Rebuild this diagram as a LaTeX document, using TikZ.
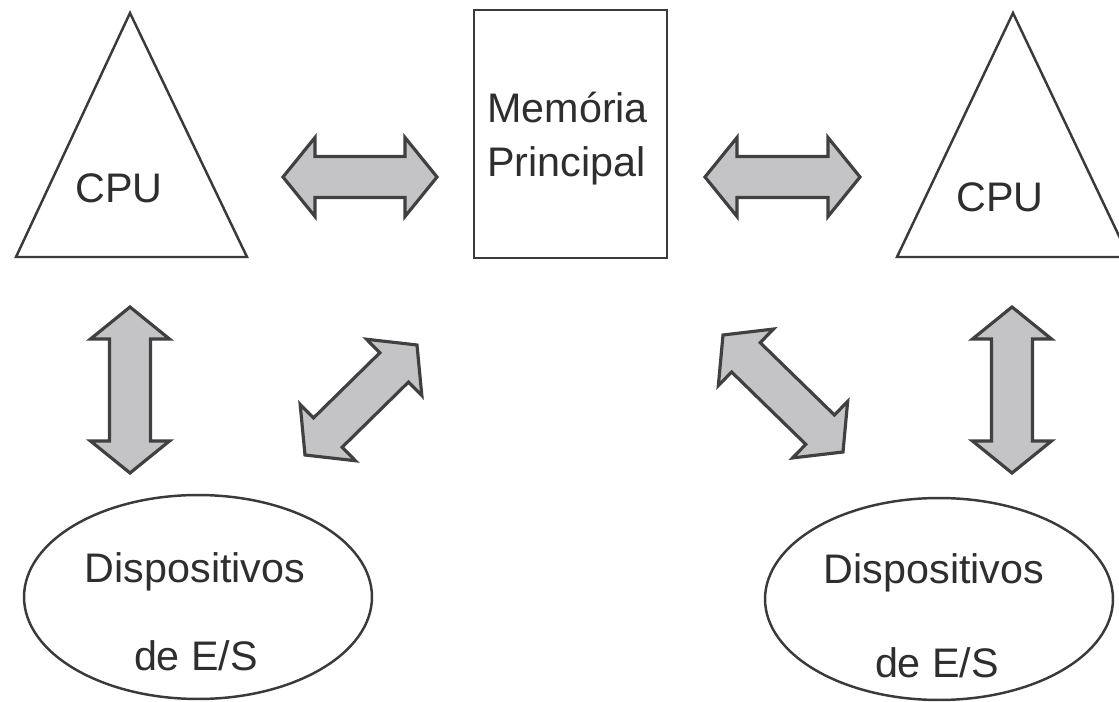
\documentclass[tikz,border=0pt]{standalone}
\usepackage{fontspec}
\setmainfont{Liberation Sans}
\usetikzlibrary{calc,shapes.geometric}

\definecolor{linegray}{HTML}{3A3A3A}
\definecolor{arrowfill}{HTML}{C4C3C6}
\definecolor{arrowline}{HTML}{404040}
\definecolor{textgray}{HTML}{2E2E2E}

% block arrow dimensions: head length, head half-width, shaft half-width
\def\arrhead{0.64cm}
\def\arrwide{0.79cm}
\def\arrshaft{0.41cm}

% double-headed block arrow between two named coordinates
\newcommand{\blockarrow}[2]{%
  \draw[blockarrow] (#1)
    -- ($(#1)!\arrhead!(#2)!\arrwide!90:(#2)$)
    -- ($(#1)!\arrhead!(#2)!\arrshaft!90:(#2)$)
    -- ($(#2)!\arrhead!(#1)!\arrshaft!-90:(#1)$)
    -- ($(#2)!\arrhead!(#1)!\arrwide!-90:(#1)$)
    -- (#2)
    -- ($(#2)!\arrhead!(#1)!\arrwide!90:(#1)$)
    -- ($(#2)!\arrhead!(#1)!\arrshaft!90:(#1)$)
    -- ($(#1)!\arrhead!(#2)!\arrshaft!-90:(#2)$)
    -- ($(#1)!\arrhead!(#2)!\arrwide!-90:(#2)$)
    -- cycle;}

\begin{document}
\begin{tikzpicture}[x=0.02cm, y=-0.02cm,
  outline/.style={draw=linegray, line width=1.4pt, line join=miter},
  blockarrow/.style={draw=arrowline, fill=arrowfill, line width=1.8pt, line join=miter},
  label/.style={font=\fontsize{23.5}{28}\selectfont, text=textgray, inner sep=0pt, anchor=base}]

\useasboundingbox (0,0) rectangle (1119,702);
\clip (0,0) rectangle (1119,702);
\fill[white] (0,0) rectangle (1119,702);

% processors
\draw[outline] (130,13) coordinate (cpuAtop) -- (247,257) coordinate (cpuAright)
  -- (16,257) coordinate (cpuAleft) -- cycle;
\node[label] (cpuA) at (119,203) {CPU};

\draw[outline] (1013,13) coordinate (cpuBtop) -- (1129,257) coordinate (cpuBright)
  -- (897,257) coordinate (cpuBleft) -- cycle;
\node[label] (cpuB) at (1000,212) {CPU};

% main memory
\node[outline, rectangle, minimum width=3.86cm, minimum height=4.96cm, inner sep=0pt]
  (mem) at (570.5,134) {};
\node[label, anchor=base west] (memA) at (487,123) {Memória};
\node[label, anchor=base west] (memB) at (487,177) {Principal};

% I/O devices
\node[outline, ellipse, minimum width=6.96cm, minimum height=4.08cm, inner sep=0pt]
  (ioA) at (198,597) {};
\node[label] (ioAa) at (195,582) {Dispositivos};
\node[label] (ioAb) at (196,670) {de E/S};

\node[outline, ellipse, minimum width=6.96cm, minimum height=4.04cm, inner sep=0pt]
  (ioB) at (939,599) {};
\node[label] (ioBa) at (934,583) {Dispositivos};
\node[label] (ioBb) at (937,677) {de E/S};

% arrow end points
\coordinate (h1a) at (283,177);  \coordinate (h1b) at (437,177);
\coordinate (h2a) at (705,177);  \coordinate (h2b) at (860,177);
\coordinate (v1a) at (130,307);  \coordinate (v1b) at (130,473);
\coordinate (v2a) at (1012,307); \coordinate (v2b) at (1012,473);
\coordinate (d1a) at (305,455);  \coordinate (d1b) at (417,345);
\coordinate (d2a) at (723,335);  \coordinate (d2b) at (843,452);

% buses
\blockarrow{h1a}{h1b}
\blockarrow{h2a}{h2b}
\blockarrow{v1a}{v1b}
\blockarrow{v2a}{v2b}
\blockarrow{d1a}{d1b}
\blockarrow{d2a}{d2b}
\end{tikzpicture}
\end{document}
